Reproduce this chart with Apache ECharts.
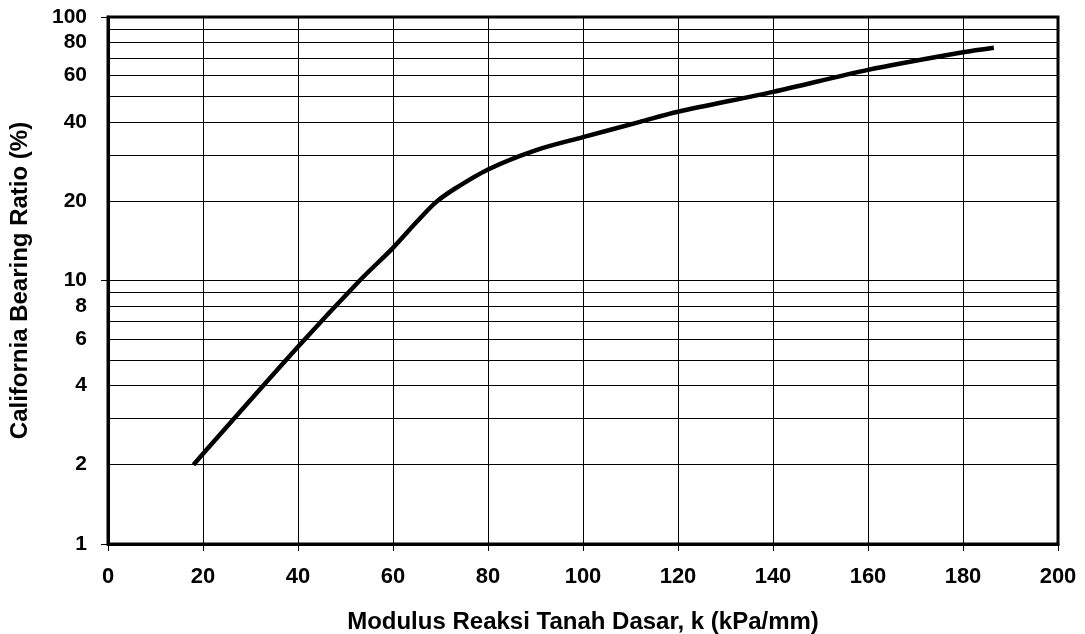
<!DOCTYPE html>
<html>
<head>
    <meta charset="utf-8">
    <title>CBR vs k</title>
    <style>
        html, body { margin: 0; padding: 0; background: #fff; }
    </style>
</head>
<body>
<script src="https://cdn.jsdelivr.net/npm/echarts@6/dist/echarts.min.js" type="text/javascript" charset="utf-8"></script>
<div id="main" style="width: 1085px;height:634px;"></div>
<script type="text/javascript">
    // k (kPa/mm) and CBR (%)
    var kValues = [18, 40, 53, 60, 65, 69, 73, 80, 90, 100, 112, 120, 140, 160, 180, 186.5];
    var cbrValues = [2.0, 5.6, 10.0, 13.3, 16.7, 19.8, 22.3, 26.4, 31.2, 35.0, 40.0, 43.7, 52.0, 63.0, 73.5, 76.5];

    // log grid lines and labelled values of the y axis
    var yGridValues = [1, 2, 3, 4, 5, 6, 7, 8, 9, 10, 20, 30, 40, 50, 60, 70, 80, 90, 100];
    var yLabelValues = [1, 2, 4, 6, 8, 10, 20, 40, 60, 80, 100];

    var font = "'Liberation Sans', Arial, sans-serif";

    var points = [];
    for (var i = 0; i < kValues.length; i++) {
        points.push([kValues[i], cbrValues[i]]);
    }

    // grid lines + labels are drawn as markLines on the log scale
    var gridLines = yGridValues.map(function (v) {
        return {
            yAxis: v,
            label: { show: yLabelValues.indexOf(v) >= 0 }
        };
    });

    var myChart = echarts.init(document.getElementById('main'));

    var option = {
        animation: false,
        backgroundColor: '#fff',
        grid: {
            left: 108,
            right: 27,
            top: 17,
            bottom: 90,
            outerBoundsMode: 'none',
            containLabel: false,
            show: true,
            borderColor: '#000',
            borderWidth: 3
        },
        xAxis: {
            type: 'value',
            min: 0,
            max: 200,
            interval: 20,
            name: 'Modulus Reaksi Tanah Dasar, k (kPa/mm)',
            nameLocation: 'middle',
            nameGap: 66,
            nameTextStyle: { fontFamily: font, fontWeight: 'bold', fontSize: 24, color: '#000' },
            axisLine: { lineStyle: { color: '#000', width: 3 } },
            axisTick: { show: true, length: 7, lineStyle: { color: '#000', width: 1 } },
            axisLabel: { fontFamily: font, fontWeight: 'bold', fontSize: 22, color: '#000', margin: 22 },
            splitLine: { show: true, lineStyle: { color: '#000', width: 1 } }
        },
        yAxis: {
            type: 'log',
            logBase: 10,
            min: 1,
            max: 100,
            name: 'California Bearing Ratio (%)',
            nameLocation: 'middle',
            nameGap: 76,
            nameRotate: 90,
            nameTextStyle: { fontFamily: font, fontWeight: 'bold', fontSize: 24, color: '#000' },
            axisLine: { show: true, lineStyle: { color: '#000', width: 3 } },
            axisTick: { show: true, length: 7, lineStyle: { color: '#000', width: 1 } },
            axisLabel: { show: false },
            splitLine: { show: false }
        },
        series: [
            {
                type: 'line',
                data: points,
                smooth: 0.3,
                symbol: 'none',
                lineStyle: { color: '#000', width: 4.5 },
                z: 5,
                markLine: {
                    silent: true,
                    symbol: 'none',
                    animation: false,
                    lineStyle: { color: '#000', width: 1, type: 'solid' },
                    label: {
                        position: 'start',
                        distance: 21,
                        formatter: function (p) { return p.value; },
                        fontFamily: font,
                        fontWeight: 'bold',
                        fontSize: 21,
                        color: '#000'
                    },
                    emphasis: { disabled: true },
                    data: gridLines
                }
            }
        ]
    };

    myChart.setOption(option);
</script>
</body>
</html>
